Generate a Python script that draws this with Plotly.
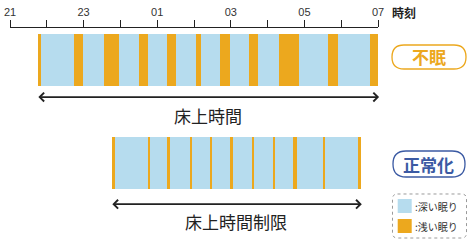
import plotly.graph_objects as go

# ---------------- data ----------------
# hours counted from 21:00
tick_hours = [0, 1, 2, 3, 4, 5, 6, 7, 8, 9, 10]
tick_labels = ["21", "", "23", "", "01", "", "03", "", "05", "", "07"]
axis_title = "時刻"

rows = ["不眠", "正常化"]
row_spans = ["床上時間", "床上時間制限"]

# segment boundaries (hours after 21:00); segments alternate light / deep, starting with light
insomnia_bounds = [0.75, 0.85, 1.74, 1.99, 2.55, 2.97, 3.50, 3.74, 4.27, 4.51,
                   5.06, 5.19, 5.71, 5.97, 6.50, 6.75, 7.30, 7.85, 8.65, 8.90,
                   9.78, 10.0]
normal_bounds = [2.76, 2.85, 3.75, 3.80, 4.29, 4.34, 4.88, 4.94, 5.44, 5.49,
                 5.99, 6.05, 6.58, 6.63, 7.14, 7.20, 7.70, 7.81, 8.50, 8.56,
                 9.48, 9.53]
all_bounds = [insomnia_bounds, normal_bounds]

legend_labels = [":深い眠り", ":浅い眠り"]

# ---------------- style ----------------
DEEP = "#b6dcee"
LIGHT = "#eca81e"
BLUE_BADGE = "#3b5aa3"
TXT = "#222222"
CJK = "Noto Sans CJK JP"

W, H = 472, 242
ML, MR, MT, MB = 10, 94, 28, 0
PW, PH = W - ML - MR, H - MT - MB


def xp(px):
    return (px - ML) / PW


def yp(py):
    return (H - MB - py) / PH


def rounded_rect(x0, y0, x1, y1, r):
    # pixel coords -> paper path with quadratic corners
    pts = [
        ("M", [(x0 + r, y0)]),
        ("L", [(x1 - r, y0)]),
        ("Q", [(x1, y0), (x1, y0 + r)]),
        ("L", [(x1, y1 - r)]),
        ("Q", [(x1, y1), (x1 - r, y1)]),
        ("L", [(x0 + r, y1)]),
        ("Q", [(x0, y1), (x0, y1 - r)]),
        ("L", [(x0, y0 + r)]),
        ("Q", [(x0, y0), (x0 + r, y0)]),
    ]
    s = ""
    for cmd, ps in pts:
        s += cmd + " ".join(f"{xp(a):.5f},{yp(b):.5f}" for a, b in ps) + " "
    return s + "Z"


# ---------------- traces ----------------
deep_y, deep_base, deep_w = [], [], []
light_y, light_base, light_w = [], [], []
for r, b in enumerate(all_bounds):
    for i in range(len(b) - 1):
        if i % 2 == 0:
            light_y.append(r); light_base.append(b[i]); light_w.append(b[i + 1] - b[i])
        else:
            deep_y.append(r); deep_base.append(b[i]); deep_w.append(b[i + 1] - b[i])

BAR_W = 0.505
fig = go.Figure()
fig.add_trace(go.Bar(orientation="h", y=deep_y, base=deep_base, x=deep_w,
                     width=BAR_W, marker=dict(color=DEEP, line=dict(width=0)),
                     showlegend=False, hoverinfo="skip"))
fig.add_trace(go.Bar(orientation="h", y=light_y, base=light_base, x=light_w,
                     width=BAR_W, marker=dict(color=LIGHT, line=dict(width=0)),
                     showlegend=False, hoverinfo="skip"))

annotations = []
shapes = []

# double arrows and span labels
arrow_dy = [0.36, 1.40]
label_dy = [0.535, 1.57]
for r, b in enumerate(all_bounds):
    x0, x1 = b[0] - 0.02, b[-1] + 0.03
    annotations.append(dict(x=x1, y=arrow_dy[r], ax=x0, ay=arrow_dy[r],
                            xref="x", yref="y", axref="x", ayref="y",
                            text="", showarrow=True, arrowhead=4, startarrowhead=4,
                            arrowside="end+start", arrowsize=1, startarrowsize=1,
                            arrowwidth=1.7, arrowcolor=TXT))
    annotations.append(dict(x=(b[0] + b[-1]) / 2, y=label_dy[r], xref="x", yref="y",
                            xanchor="center", yanchor="middle",
                            text=row_spans[r], showarrow=False,
                            font=dict(family=CJK, size=17, color=TXT)))

# axis title
annotations.append(dict(x=xp(404), y=yp(12), xref="paper", yref="paper",
                        xanchor="center", yanchor="middle",
                        text="<b>" + axis_title + "</b>", showarrow=False,
                        font=dict(family=CJK, size=12, color=TXT)))

# badges
badges = [
    dict(cx=429, cy=57, w=74, h=24, color=LIGHT),
    dict(cx=429, cy=164, w=72, h=26, color=BLUE_BADGE),
]
for r, bd in enumerate(badges):
    x0, x1 = bd["cx"] - bd["w"] / 2, bd["cx"] + bd["w"] / 2
    y0, y1 = bd["cy"] - bd["h"] / 2, bd["cy"] + bd["h"] / 2
    shapes.append(dict(type="path", xref="paper", yref="paper",
                       path=rounded_rect(x0, y0, x1, y1, bd["h"] / 2),
                       line=dict(color=bd["color"], width=1.3)))
    annotations.append(dict(x=xp(bd["cx"]), y=yp(bd["cy"]), xref="paper", yref="paper",
                            xanchor="center", yanchor="middle",
                            text="<b>" + rows[r] + "</b>", showarrow=False,
                            font=dict(family=CJK, size=17, color=bd["color"])))

# legend box
shapes.append(dict(type="path", xref="paper", yref="paper",
                   path=rounded_rect(392.5, 194, 466.5, 238, 5),
                   line=dict(color="#9a9a9a", width=1, dash="dot")))
leg_colors = [DEEP, LIGHT]
leg_y = [199, 219]
for i in range(2):
    shapes.append(dict(type="rect", xref="paper", yref="paper",
                       x0=xp(397.7), x1=xp(411.7), y0=yp(leg_y[i]), y1=yp(leg_y[i] + 14),
                       fillcolor=leg_colors[i], line=dict(width=0)))
    annotations.append(dict(x=xp(412.5), y=yp(leg_y[i] + 7.5), xref="paper", yref="paper",
                            xanchor="left", yanchor="middle",
                            text=legend_labels[i], showarrow=False,
                            font=dict(family=CJK, size=10, color="#333333")))

fig.update_layout(
    width=W, height=H,
    margin=dict(l=ML, r=MR, t=MT, b=MB, pad=0),
    paper_bgcolor="white", plot_bgcolor="white",
    barmode="overlay", bargap=0,
    annotations=annotations, shapes=shapes,
    showlegend=False,
    xaxis=dict(side="top", range=[0, 10], tickvals=tick_hours, ticktext=tick_labels,
               showline=True, linecolor=TXT, linewidth=1.2,
               ticks="outside", ticklen=7, tickwidth=1.2, tickcolor=TXT,
               tickfont=dict(family="Liberation Sans", size=11, color="#333333"),
               showgrid=False, zeroline=False, fixedrange=True),
    yaxis=dict(range=[1.767, -0.311], visible=False, showgrid=False,
               zeroline=False, fixedrange=True),
)

fig.write_html("out.html", config={"displayModeBar": False})
